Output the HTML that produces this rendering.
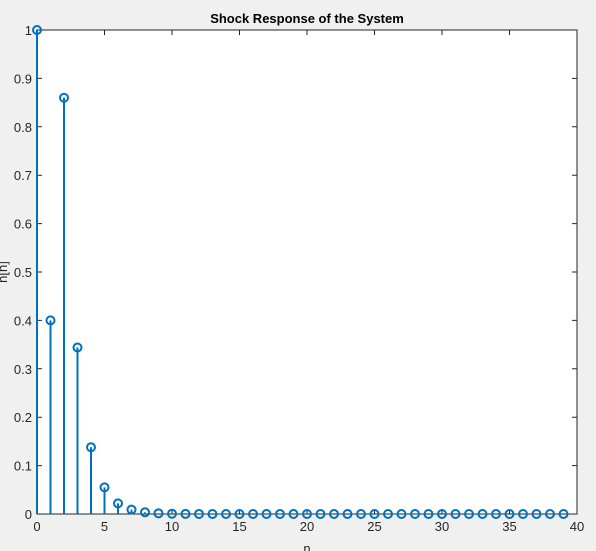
<!DOCTYPE html>
<html><head><meta charset="utf-8"><style>
body{margin:0;background:#f0f0f0;}
svg{display:block;font-family:"Liberation Sans",Arial,sans-serif;}
</style></head><body>
<svg id="chart" width="596" height="551" viewBox="0 0 596 551">
<rect x="0" y="0" width="596" height="551" fill="#f0f0f0"/>
<rect x="37" y="30" width="540" height="484" fill="#fff"/>
<g id="grid"></g>
<g id="marks"></g>
<text x="307" y="23" text-anchor="middle" font-size="13" font-weight="bold" fill="#000">Shock Response of the System</text>
<text x="307" y="553" text-anchor="middle" font-size="13" fill="#262626">n</text>
<text transform="translate(7,272) rotate(-90)" text-anchor="middle" font-size="13" fill="#262626">h[n]</text>
</svg>
<script>
const nValues=[0,1,2,3,4,5,6,7,8,9,10,11,12,13,14,15,16,17,18,19,20,21,22,23,24,25,26,27,28,29,30,31,32,33,34,35,36,37,38,39];
const hValues=[1,0.4,0.86,0.344,0.138,0.055,0.022,0.009,0.0035,0.0014,0.0006,0.0002,0.0001,0,0,0,0,0,0,0,0,0,0,0,0,0,0,0,0,0,0,0,0,0,0,0,0,0,0,0];
const xTicks=[0,5,10,15,20,25,30,35,40];
const yTicks=[0,0.1,0.2,0.3,0.4,0.5,0.6,0.7,0.8,0.9,1];
const X0=37,X1=577,Y0=514,Y1=30;
const xs=v=>X0+(v-0)/(40-0)*(X1-X0);
const ys=v=>Y0-(v-0)/(1-0)*(Y0-Y1);
const NS="http://www.w3.org/2000/svg";
const svg=document.getElementById('chart');
const g=document.getElementById('grid');
const m=document.getElementById('marks');
function mk(t,a,p){const e=document.createElementNS(NS,t);for(const k in a)e.setAttribute(k,a[k]);(p||g).appendChild(e);return e;}
// axes box
const box=mk('rect',{x:X0,y:Y1,width:X1-X0,height:Y0-Y1,fill:'none',stroke:'#262626','stroke-width':1});


xTicks.forEach(t=>{
  const x=xs(t);
  const l=mk('path',{d:`M${x},${Y0}v-5M${x},${Y1}v5`,stroke:'#262626','stroke-width':1});
  
  
  const tx=mk('text',{x:x,y:Y0+17,'text-anchor':'middle','font-size':13,fill:'#262626'});
  tx.textContent=t;
  
  
});
yTicks.forEach(t=>{
  const y=ys(t);
  const l=mk('path',{d:`M${X0},${y}h5M${X1},${y}h-5`,stroke:'#262626','stroke-width':1});
  
  
  const tx=mk('text',{x:X0-5,y:y+5,'text-anchor':'end','font-size':13,fill:'#262626'});
  tx.textContent=t;
  
  
});
nValues.forEach((n,i)=>{
  const x=xs(n),y=ys(hValues[i]);
  const s=mk('line',{x1:x,y1:Y0,x2:x,y2:y,stroke:'#0072BD','stroke-width':2},m);
  
  
  const c=mk('circle',{cx:x,cy:y,r:4,fill:'none',stroke:'#0072BD','stroke-width':2},m);
  
  
});
</script>
</body></html>
